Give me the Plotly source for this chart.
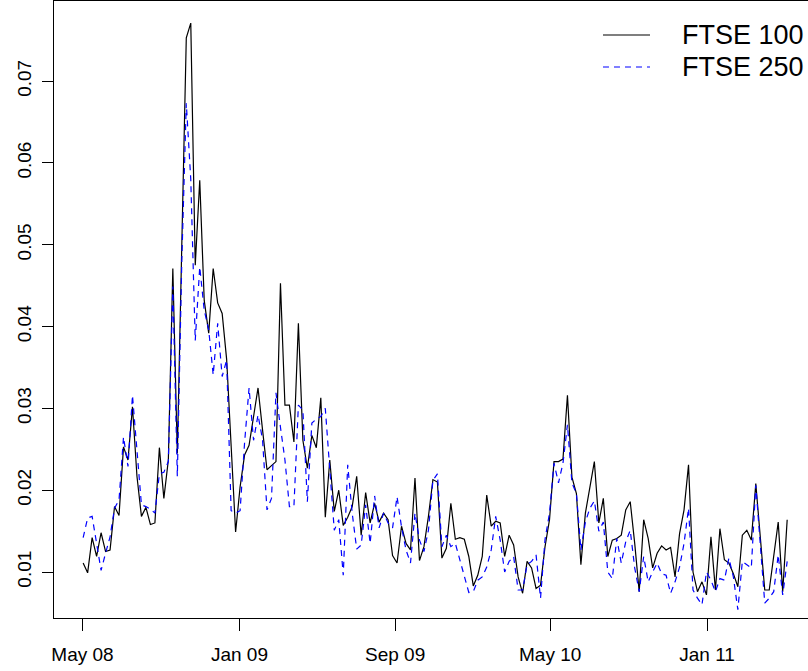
import pandas as pd
import plotly.graph_objects as go

start_week = "2008-05-02"
n_weeks = 158
ftse100 = [
    0.0111, 0.0099, 0.0142, 0.0119, 0.0148, 0.0125, 0.0127, 0.0180, 0.0169, 0.0253,
    0.0237, 0.0302, 0.0217, 0.0168, 0.0179, 0.0158, 0.0160, 0.0252, 0.0190, 0.0237,
    0.0471, 0.0245, 0.0500, 0.0753, 0.0771, 0.0475, 0.0579, 0.0432, 0.0392, 0.0471,
    0.0429, 0.0416, 0.0360, 0.0255, 0.0149, 0.0204, 0.0243, 0.0255, 0.0290, 0.0325,
    0.0274, 0.0225, 0.0230, 0.0235, 0.0453, 0.0304, 0.0304, 0.0259, 0.0404, 0.0261,
    0.0227, 0.0267, 0.0252, 0.0313, 0.0167, 0.0237, 0.0174, 0.0200, 0.0157, 0.0167,
    0.0180, 0.0217, 0.0145, 0.0197, 0.0160, 0.0184, 0.0161, 0.0172, 0.0164, 0.0120,
    0.0111, 0.0156, 0.0135, 0.0127, 0.0215, 0.0114, 0.0131, 0.0168, 0.0213, 0.0210,
    0.0117, 0.0129, 0.0184, 0.0140, 0.0142, 0.0140, 0.0119, 0.0083, 0.0096, 0.0119,
    0.0194, 0.0156, 0.0162, 0.0160, 0.0119, 0.0145, 0.0133, 0.0094, 0.0074, 0.0113,
    0.0105, 0.0080, 0.0084, 0.0131, 0.0164, 0.0235, 0.0235, 0.0238, 0.0316, 0.0216,
    0.0196, 0.0109, 0.0172, 0.0202, 0.0235, 0.0160, 0.0190, 0.0119, 0.0139, 0.0141,
    0.0145, 0.0176, 0.0186, 0.0135, 0.0076, 0.0164, 0.0141, 0.0105, 0.0123, 0.0132,
    0.0127, 0.0130, 0.0094, 0.0147, 0.0176, 0.0231, 0.0100, 0.0076, 0.0088, 0.0072,
    0.0143, 0.0078, 0.0153, 0.0115, 0.0111, 0.0098, 0.0082, 0.0145, 0.0151, 0.0139,
    0.0208, 0.0143, 0.0078, 0.0078, 0.0119, 0.0161, 0.0076, 0.0164,
]
ftse250 = [
    0.0142, 0.0166, 0.0168, 0.0135, 0.0102, 0.0123, 0.0143, 0.0178, 0.0188, 0.0265,
    0.0229, 0.0316, 0.0245, 0.0182, 0.0180, 0.0177, 0.0172, 0.0220, 0.0222, 0.0235,
    0.0449, 0.0217, 0.0480, 0.0673, 0.0580, 0.0383, 0.0473, 0.0420, 0.0396, 0.0341,
    0.0404, 0.0339, 0.0359, 0.0175, 0.0172, 0.0175, 0.0258, 0.0325, 0.0261, 0.0292,
    0.0262, 0.0176, 0.0190, 0.0319, 0.0277, 0.0237, 0.0180, 0.0180, 0.0304, 0.0298,
    0.0186, 0.0282, 0.0287, 0.0290, 0.0300, 0.0228, 0.0151, 0.0164, 0.0096, 0.0231,
    0.0172, 0.0128, 0.0133, 0.0182, 0.0135, 0.0193, 0.0154, 0.0172, 0.0160, 0.0154,
    0.0192, 0.0155, 0.0127, 0.0111, 0.0172, 0.0139, 0.0125, 0.0151, 0.0212, 0.0220,
    0.0131, 0.0145, 0.0131, 0.0135, 0.0115, 0.0094, 0.0075, 0.0076, 0.0090, 0.0094,
    0.0106, 0.0127, 0.0168, 0.0139, 0.0100, 0.0113, 0.0119, 0.0078, 0.0078, 0.0109,
    0.0113, 0.0121, 0.0068, 0.0140, 0.0172, 0.0233, 0.0209, 0.0233, 0.0280, 0.0209,
    0.0196, 0.0127, 0.0161, 0.0178, 0.0187, 0.0150, 0.0161, 0.0100, 0.0092, 0.0141,
    0.0111, 0.0137, 0.0151, 0.0105, 0.0076, 0.0119, 0.0088, 0.0100, 0.0111, 0.0098,
    0.0096, 0.0074, 0.0088, 0.0106, 0.0135, 0.0178, 0.0078, 0.0068, 0.0060, 0.0100,
    0.0090, 0.0076, 0.0092, 0.0090, 0.0117, 0.0094, 0.0054, 0.0113, 0.0109, 0.0105,
    0.0206, 0.0139, 0.0062, 0.0068, 0.0076, 0.0121, 0.0072, 0.0113,
]
x_tick_dates = ["2008-05-01", "2009-01-01", "2009-09-01", "2010-05-01", "2011-01-01"]
x_tick_labels = ["May 08", "Jan 09", "Sep 09", "May 10", "Jan 11"]
y_ticks = [0.01, 0.02, 0.03, 0.04, 0.05, 0.06, 0.07]
y_tick_labels = ["0.01", "0.02", "0.03", "0.04", "0.05", "0.06", "0.07"]
series_names = ["FTSE 100", "FTSE 250"]
series_colors = ["#000000", "#0000ff"]
series_dash = ["solid", "6px,5px"]

dates = pd.date_range(start_week, periods=n_weeks, freq="7D")

FONT = "Liberation Sans, Arial, Helvetica, sans-serif"

fig = go.Figure()
for name, vals, col, dash in zip(series_names, [ftse100, ftse250], series_colors, series_dash):
    fig.add_trace(go.Scatter(x=dates, y=vals, mode="lines", name=name, showlegend=False,
                             line=dict(color=col, width=1.2, dash=dash)))

# Legend (R-style: long line sample, wide gap, large text), placed in paper coordinates
legend_rows_y = [0.9449, 0.893]
for name, col, dash, ly in zip(series_names, series_colors, series_dash, legend_rows_y):
    fig.add_shape(type="line", xref="paper", yref="paper",
                  x0=0.7281, x1=0.7905, y0=ly, y1=ly,
                  line=dict(color=col, width=1.2, dash=dash))
    fig.add_annotation(xref="paper", yref="paper", x=0.8302, y=ly,
                       xanchor="left", yanchor="middle", showarrow=False,
                       text=name, font=dict(size=27, family=FONT, color="black"))

fig.update_layout(
    width=808, height=671,
    margin=dict(l=54, r=0, t=1, b=53, autoexpand=False),
    paper_bgcolor="white", plot_bgcolor="white",
    font=dict(family=FONT, color="black", size=19),
    showlegend=False,
    xaxis=dict(
        range=["2008-03-17 12:00", "2011-06-07 12:00"],
        tickmode="array", tickvals=x_tick_dates, ticktext=x_tick_labels,
        showgrid=False, zeroline=False, automargin=False,
        showline=True, linecolor="black", linewidth=1, mirror=True,
        ticks="outside", ticklen=12, tickcolor="black", tickwidth=1,
        ticklabelstandoff=7,
        tickfont=dict(size=19, family=FONT),
    ),
    yaxis=dict(
        range=[0.00438, 0.0798],
        tickmode="array", tickvals=y_ticks, ticktext=y_tick_labels,
        showgrid=False, zeroline=False, automargin=False,
        showline=True, linecolor="black", linewidth=1,
        ticks="outside", ticklen=11, tickcolor="black", tickwidth=1,
        tickangle=-90, ticklabelstandoff=3,
        tickfont=dict(size=19, family=FONT),
    ),
)

fig.write_html("out.html", config={"displayModeBar": False},
               post_script="document.body.style.margin='0';")
